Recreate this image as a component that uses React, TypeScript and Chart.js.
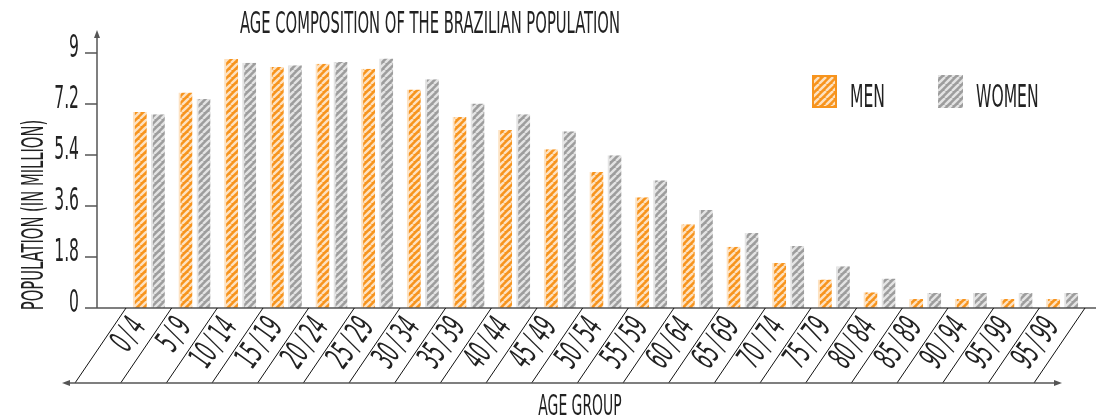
import React, { useEffect, useRef } from "react";
import { Chart, registerables } from "chart.js";

Chart.register(...registerables);

const categories = ["0/4", "5/9", "10/14", "15/19", "20/24", "25/29", "30/34", "35/39", "40/44", "45/49", "50/54", "55/59", "60/64", "65/69", "70/74", "75/79", "80/84", "85/89", "90/94", "95/99", "95/99"];
const men = [6.92, 7.61, 8.79, 8.51, 8.62, 8.44, 7.71, 6.74, 6.28, 5.6, 4.8, 3.91, 2.96, 2.16, 1.59, 1.01, 0.56, 0.32, 0.32, 0.32, 0.32];
const women = [6.84, 7.38, 8.66, 8.57, 8.68, 8.81, 8.07, 7.22, 6.84, 6.24, 5.39, 4.51, 3.46, 2.65, 2.19, 1.47, 1.04, 0.53, 0.53, 0.53, 0.53];
const yTicks = [0, 1.8, 3.6, 5.4, 7.2, 9];
const seriesNames = ["MEN", "WOMEN"];
const title = "AGE COMPOSITION OF THE BRAZILIAN POPULATION";
const yTitle = "POPULATION (IN MILLION)";
const xTitle = "AGE GROUP";

const FONT = "'Liberation Sans Narrow', 'DejaVu Sans Condensed', 'Liberation Sans', sans-serif";
const ORANGE = "#f7941d";
const ORANGE_LIGHT = "#fde2c2";
const GRAY = "#9d9d9d";
const GRAY_LIGHT = "#e4e4e4";
const INK = "#222";
const AXIS = "#555";

function makePattern(base: string, stripe: string): CanvasPattern | string {
  const c = document.createElement("canvas");
  const s = 7;
  c.width = s;
  c.height = s;
  const g = c.getContext("2d");
  if (!g) return base;
  g.fillStyle = base;
  g.fillRect(0, 0, s, s);
  g.strokeStyle = stripe;
  g.lineWidth = 2.4;
  for (const off of [-s, 0, s]) {
    g.beginPath();
    g.moveTo(off, s);
    g.lineTo(off + s, 0);
    g.stroke();
  }
  const p = g.createPattern(c, "repeat");
  return p || base;
}

export default function App() {
  const ref = useRef<HTMLCanvasElement | null>(null);

  useEffect(() => {
    const canvas = ref.current;
    if (!canvas) return;
    const orangeP = makePattern(ORANGE, ORANGE_LIGHT);
    const grayP = makePattern(GRAY, GRAY_LIGHT);

    let sx = 0.7;
    const capToSize = (cap: number) => cap / 0.6;

    const txt = (
      ctx: CanvasRenderingContext2D,
      s: string,
      x: number,
      y: number,
      cap: number,
      align: CanvasTextAlign = "center",
      baseline: CanvasTextBaseline = "alphabetic",
      rot = 0
    ) => {
      ctx.save();
      ctx.translate(x, y);
      ctx.rotate(rot);
      ctx.scale(sx, 1);
      ctx.font = `${capToSize(cap)}px ${FONT}`;
      ctx.fillStyle = INK;
      ctx.textAlign = align;
      ctx.textBaseline = baseline;
      ctx.fillText(s, 0, 0);
      ctx.restore();
    };

    const decor = {
      id: "decor",
      afterDraw(chart: any) {
        const ctx: CanvasRenderingContext2D = chart.ctx;
        const xs = chart.scales.x;
        const ys = chart.scales.y;
        const area = chart.chartArea;
        const y0 = ys.getPixelForValue(0);
        const axisX = area.left - 29;

        ctx.save();
        ctx.font = `${capToSize(18)}px ${FONT}`;
        const w = ctx.measureText(title).width;
        ctx.restore();
        sx = 380 / w;

        ctx.save();
        ctx.strokeStyle = AXIS;
        ctx.fillStyle = AXIS;
        ctx.lineWidth = 1.5;
        ctx.beginPath();
        ctx.moveTo(axisX, y0);
        ctx.lineTo(axisX, area.top - 18);
        ctx.stroke();
        ctx.beginPath();
        ctx.moveTo(axisX, area.top - 23);
        ctx.lineTo(axisX - 3, area.top - 15);
        ctx.lineTo(axisX + 3, area.top - 15);
        ctx.closePath();
        ctx.fill();
        for (const t of yTicks) {
          const py = ys.getPixelForValue(t);
          ctx.beginPath();
          ctx.moveTo(axisX - 12, py);
          ctx.lineTo(axisX, py);
          ctx.stroke();
        }
        ctx.beginPath();
        ctx.moveTo(axisX, y0);
        ctx.lineTo(area.right + 11, y0);
        ctx.stroke();
        ctx.restore();

        const n = categories.length;
        const step = xs.getPixelForValue(1) - xs.getPixelForValue(0);
        const yb = y0 + 75;
        const dx = 51;
        ctx.save();
        ctx.strokeStyle = "#111";
        ctx.lineWidth = 1;
        for (let k = 0; k <= n; k++) {
          const xt = xs.getPixelForValue(0) - step / 2 + k * step;
          ctx.beginPath();
          ctx.moveTo(xt, y0);
          ctx.lineTo(xt - dx, yb);
          ctx.stroke();
        }
        const bl = xs.getPixelForValue(0) - step / 2 - dx - 13;
        const br = xs.getPixelForValue(n - 1) + step / 2 - dx + 28;
        ctx.strokeStyle = AXIS;
        ctx.fillStyle = AXIS;
        ctx.lineWidth = 1.5;
        ctx.beginPath();
        ctx.moveTo(bl + 4, yb);
        ctx.lineTo(br - 4, yb);
        ctx.stroke();
        ctx.beginPath();
        ctx.moveTo(bl, yb);
        ctx.lineTo(bl + 8, yb - 3);
        ctx.lineTo(bl + 8, yb + 3);
        ctx.closePath();
        ctx.fill();
        ctx.beginPath();
        ctx.moveTo(br, yb);
        ctx.lineTo(br - 8, yb - 3);
        ctx.lineTo(br - 8, yb + 3);
        ctx.closePath();
        ctx.fill();
        ctx.restore();

        const ang = (-54 * Math.PI) / 180;
        categories.forEach((c, i) => {
          const cx = xs.getPixelForValue(i);
          const ty = y0 + 14;
          const tx = cx - dx * (14 / 75);
          txt(ctx, c.replace("/", "\u2009/\u2009"), tx, ty, 20, "right", "middle", ang);
        });

        yTicks.forEach((t) => {
          const py = ys.getPixelForValue(t);
          txt(ctx, String(t), axisX - 18, py + 4, 19, "right", "alphabetic");
        });

        txt(ctx, title, 430, 33, 18, "center", "alphabetic");
        txt(ctx, xTitle, 580, 415, 17, "center", "alphabetic");
        txt(ctx, yTitle, 43, 215, 18, "center", "alphabetic", -Math.PI / 2);

        const items = [
          { name: seriesNames[0], fill: orangeP, border: ORANGE, x: 812 },
          { name: seriesNames[1], fill: grayP, border: null as string | null, x: 938 },
        ];
        items.forEach((it) => {
          ctx.save();
          ctx.fillStyle = it.fill as any;
          ctx.fillRect(it.x, 75, 25, 33);
          if (it.border) {
            ctx.strokeStyle = it.border;
            ctx.lineWidth = 2;
            ctx.strokeRect(it.x + 1, 76, 23, 31);
          }
          ctx.restore();
          txt(ctx, it.name, it.x + 38, 107, 19, "left", "alphabetic");
        });
      },
    };

    const chart = new Chart(canvas, {
      type: "bar",
      data: {
        labels: categories,
        datasets: [
          {
            label: seriesNames[0],
            data: men,
            backgroundColor: orangeP as any,
            borderColor: ORANGE_LIGHT,
            borderWidth: { left: 2, top: 0, right: 0, bottom: 0 } as any,
            borderSkipped: false,
            categoryPercentage: 0.79,
            barPercentage: 0.78,
          },
          {
            label: seriesNames[1],
            data: women,
            backgroundColor: grayP as any,
            borderColor: GRAY_LIGHT,
            borderWidth: { left: 2, top: 0, right: 0, bottom: 0 } as any,
            borderSkipped: false,
            categoryPercentage: 0.79,
            barPercentage: 0.78,
          },
        ],
      },
      options: {
        responsive: false,
        animation: false,
        layout: { padding: { left: 126, right: 21, top: 53, bottom: 109 } },
        plugins: {
          legend: { display: false },
          tooltip: { enabled: false },
          title: { display: false },
        },
        scales: {
          x: { display: false, offset: true },
          y: { display: false, min: 0, max: 9 },
        },
      },
      plugins: [decor],
    });
    return () => chart.destroy();
  }, []);

  return (
    <div style={{ position: "fixed", left: 0, top: 0, width: 1106, height: 417, background: "#fff" }}>
      <canvas ref={ref} width={1106} height={417} style={{ display: "block" }} />
    </div>
  );
}
